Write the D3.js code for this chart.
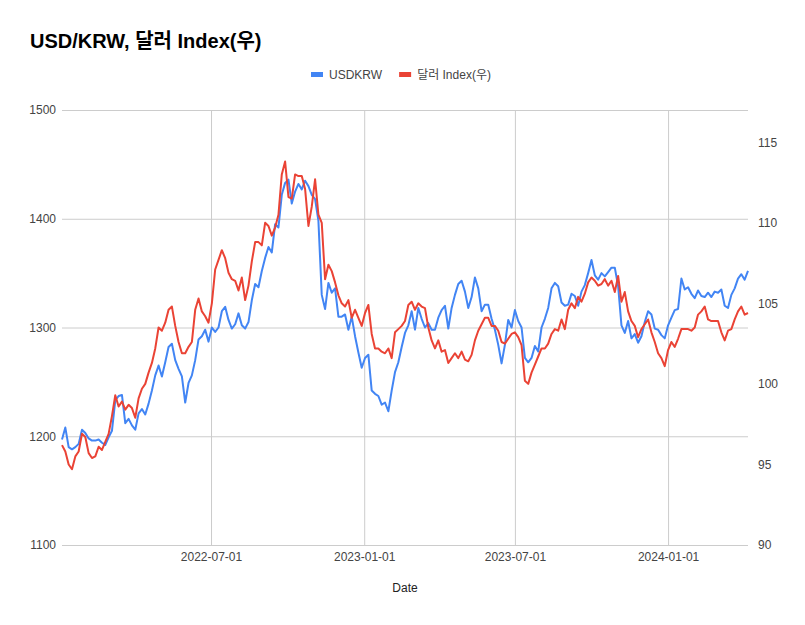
<!DOCTYPE html>
<html lang="ko">

<head>
    <meta charset="UTF-8">
    <script src="https://cdn.jsdelivr.net/npm/d3@7"></script>
    <title>USD/KRW, 달러 Index(우)</title>
    <style>
        body {
            margin: 0;
            background: #fff;
        }

        svg text {
            font-family: "Liberation Sans", Arial, "Noto Sans CJK KR", sans-serif;
        }

        .grid line {
            stroke: #ccc;
            stroke-width: 1px;
        }

        .grid path {
            display: none;
        }

        .tick text {
            fill: #444;
            font-size: 12px;
        }
    </style>
</head>

<body>
    <div id="chart"></div>

    <script>
        // Dates (every 4 days)
        const dates = [
            "2022-01-03", "2022-01-07", "2022-01-11", "2022-01-15", "2022-01-19", "2022-01-23", "2022-01-27", "2022-01-31",
            "2022-02-04", "2022-02-08", "2022-02-12", "2022-02-16", "2022-02-20", "2022-02-24", "2022-02-28",
            "2022-03-04", "2022-03-08", "2022-03-12", "2022-03-16", "2022-03-20", "2022-03-24", "2022-03-28",
            "2022-04-01", "2022-04-05", "2022-04-09", "2022-04-13", "2022-04-17", "2022-04-21", "2022-04-25", "2022-04-29",
            "2022-05-03", "2022-05-07", "2022-05-11", "2022-05-15", "2022-05-19", "2022-05-23", "2022-05-27", "2022-05-31",
            "2022-06-04", "2022-06-08", "2022-06-12", "2022-06-16", "2022-06-20", "2022-06-24", "2022-06-28",
            "2022-07-02", "2022-07-06", "2022-07-10", "2022-07-14", "2022-07-18", "2022-07-22", "2022-07-26", "2022-07-30",
            "2022-08-03", "2022-08-07", "2022-08-11", "2022-08-15", "2022-08-19", "2022-08-23", "2022-08-27", "2022-08-31",
            "2022-09-04", "2022-09-08", "2022-09-12", "2022-09-16", "2022-09-20", "2022-09-24", "2022-09-28",
            "2022-10-02", "2022-10-06", "2022-10-10", "2022-10-14", "2022-10-18", "2022-10-22", "2022-10-26", "2022-10-30",
            "2022-11-03", "2022-11-07", "2022-11-11", "2022-11-15", "2022-11-19", "2022-11-23", "2022-11-27",
            "2022-12-01", "2022-12-05", "2022-12-09", "2022-12-13", "2022-12-17", "2022-12-21", "2022-12-25", "2022-12-29",
            "2023-01-02", "2023-01-06", "2023-01-10", "2023-01-14", "2023-01-18", "2023-01-22", "2023-01-26", "2023-01-30",
            "2023-02-03", "2023-02-07", "2023-02-11", "2023-02-15", "2023-02-19", "2023-02-23", "2023-02-27",
            "2023-03-03", "2023-03-07", "2023-03-11", "2023-03-15", "2023-03-19", "2023-03-23", "2023-03-27", "2023-03-31",
            "2023-04-04", "2023-04-08", "2023-04-12", "2023-04-16", "2023-04-20", "2023-04-24", "2023-04-28",
            "2023-05-02", "2023-05-06", "2023-05-10", "2023-05-14", "2023-05-18", "2023-05-22", "2023-05-26", "2023-05-30",
            "2023-06-03", "2023-06-07", "2023-06-11", "2023-06-15", "2023-06-19", "2023-06-23", "2023-06-27",
            "2023-07-01", "2023-07-05", "2023-07-09", "2023-07-13", "2023-07-17", "2023-07-21", "2023-07-25", "2023-07-29",
            "2023-08-02", "2023-08-06", "2023-08-10", "2023-08-14", "2023-08-18", "2023-08-22", "2023-08-26", "2023-08-30",
            "2023-09-03", "2023-09-07", "2023-09-11", "2023-09-15", "2023-09-19", "2023-09-23", "2023-09-27",
            "2023-10-01", "2023-10-05", "2023-10-09", "2023-10-13", "2023-10-17", "2023-10-21", "2023-10-25", "2023-10-29",
            "2023-11-02", "2023-11-06", "2023-11-10", "2023-11-14", "2023-11-18", "2023-11-22", "2023-11-26", "2023-11-30",
            "2023-12-04", "2023-12-08", "2023-12-12", "2023-12-16", "2023-12-20", "2023-12-24", "2023-12-28",
            "2024-01-01", "2024-01-05", "2024-01-09", "2024-01-13", "2024-01-17", "2024-01-21", "2024-01-25", "2024-01-29",
            "2024-02-02", "2024-02-06", "2024-02-10", "2024-02-14", "2024-02-18", "2024-02-22", "2024-02-26",
            "2024-03-01", "2024-03-05", "2024-03-09", "2024-03-13", "2024-03-17", "2024-03-21", "2024-03-25", "2024-03-29",
            "2024-04-02", "2024-04-06"
        ];

        // USDKRW (left axis)
        const usdkrw = [
            1197, 1208, 1190, 1188, 1190, 1193, 1206, 1203, 1198, 1196,
            1196, 1197, 1194, 1192, 1199, 1205, 1233, 1237, 1238, 1212,
            1216, 1210, 1206, 1221, 1225, 1220, 1230, 1242, 1256, 1265,
            1255, 1268, 1282, 1285, 1270, 1262, 1255, 1231, 1249, 1256,
            1270, 1289, 1292, 1298, 1287, 1300, 1296, 1300, 1315, 1319,
            1307, 1299, 1303, 1313, 1302, 1299, 1305, 1325, 1340, 1337,
            1352, 1364, 1374, 1369, 1395, 1392, 1422, 1433, 1436, 1414,
            1425, 1432, 1427, 1435, 1430, 1422, 1418, 1398, 1330, 1317,
            1341, 1332, 1336, 1310, 1310, 1312, 1298, 1310, 1292, 1277,
            1263, 1272, 1275, 1242, 1239, 1237, 1229, 1231, 1223, 1242,
            1259, 1268, 1282, 1295, 1302, 1315, 1298, 1318, 1308, 1300,
            1304, 1298, 1298, 1309, 1316, 1320, 1299, 1318, 1330, 1340,
            1343, 1333, 1318, 1328, 1346, 1336, 1315, 1321, 1321, 1308,
            1298, 1284, 1267, 1284, 1307, 1300, 1316, 1306, 1300, 1272,
            1268, 1272, 1283, 1278, 1300, 1308, 1318, 1336, 1341, 1338,
            1323, 1320, 1321, 1331, 1329, 1320, 1333, 1339, 1350, 1362,
            1348, 1344, 1350, 1347, 1351, 1355, 1355, 1338, 1302, 1295,
            1306, 1290, 1294, 1286, 1292, 1305, 1315, 1312, 1299, 1298,
            1293, 1290, 1302, 1309, 1316, 1317, 1345, 1335, 1337, 1331,
            1327, 1334, 1329, 1328, 1332, 1328, 1333, 1332, 1335, 1320,
            1318, 1330, 1336, 1345, 1349, 1344, 1352
        ];

        // 달러 Index (right axis)
        const dollarIndex = [
            96.2, 95.8, 95.0, 94.7, 95.5, 95.8, 96.9, 96.7, 95.7, 95.4,
            95.5, 96.1, 95.9, 96.4, 96.9, 98.0, 99.3, 98.6, 98.9, 98.4,
            98.7, 98.5, 97.9, 99.1, 99.7, 100.0, 100.7, 101.3, 102.2, 103.5,
            103.3, 103.8, 104.6, 104.8, 103.6, 102.6, 101.9, 101.9, 102.3, 102.6,
            104.6, 105.3, 104.5, 104.2, 103.8, 105.0, 107.1, 107.7, 108.3, 107.8,
            106.9, 106.5, 106.4, 105.8, 106.6, 105.2, 106.1, 107.6, 108.8, 108.8,
            108.6, 110.0, 109.8, 109.2, 109.7, 110.5, 113.0, 113.8, 111.6, 111.5,
            113.0, 112.9, 112.9, 112.1, 109.8, 111.0, 112.7, 110.5, 110.0, 106.5,
            107.4, 107.0, 106.3, 105.5, 105.0, 104.8, 105.2, 104.1, 104.6, 104.1,
            103.6, 104.4, 104.9, 103.1, 102.2, 102.2, 102.0, 101.9, 102.2, 101.6,
            103.2, 103.4, 103.6, 103.9, 104.9, 105.1, 104.6, 105.0, 104.8, 104.7,
            103.5, 102.7, 102.2, 102.7, 102.0, 102.1, 101.3, 101.6, 101.9, 101.6,
            102.0, 101.5, 101.4, 101.8, 102.7, 103.3, 103.7, 104.1, 104.1, 103.6,
            103.6, 103.3, 102.6, 102.5, 102.8, 103.1, 103.2, 102.9, 102.4, 100.2,
            100.0, 100.7, 101.2, 101.7, 102.2, 102.2, 102.5, 103.1, 103.4, 103.3,
            104.0, 103.4, 104.6, 105.0, 104.7, 105.4, 105.1, 105.6, 106.3, 106.6,
            106.4, 106.1, 106.2, 106.5, 106.1, 106.4, 105.7, 106.7, 105.1, 105.7,
            104.5, 103.9, 103.6, 102.9, 103.4, 103.7, 104.0, 103.2, 102.6, 101.9,
            101.6, 101.1, 102.1, 102.6, 102.3, 102.8, 103.4, 103.4, 103.4, 103.3,
            103.5, 104.3, 104.5, 104.8, 104.0, 103.9, 103.9, 103.9, 103.2, 102.7,
            103.3, 103.4, 104.0, 104.5, 104.8, 104.3, 104.4
        ];

        const xTicks = ["2022-07-01", "2023-01-01", "2023-07-01", "2024-01-01"];
        const leftTicks = [1100, 1200, 1300, 1400, 1500];
        const rightTicks = [90, 95, 100, 105, 110, 115];

        const seriesNames = ["USDKRW", "달러 Index(우)"];
        const seriesColors = ["#4285f4", "#ea4335"];

        // Set dimensions
        const svgWidth = 805;
        const svgHeight = 625;
        const margin = { top: 110, right: 57, bottom: 80, left: 62 };
        const plotW = svgWidth - margin.left - margin.right;
        const plotH = svgHeight - margin.top - margin.bottom;

        const parse = d3.timeParse("%Y-%m-%d");
        const dateObjs = dates.map(parse);

        const svg = d3.select("#chart").append("svg")
            .attr("width", svgWidth)
            .attr("height", svgHeight);

        const x = d3.scaleTime()
            .domain([dateObjs[0], dateObjs[dateObjs.length - 1]])
            .range([margin.left, margin.left + plotW]);

        const yLeft = d3.scaleLinear()
            .domain([1100, 1500])
            .range([margin.top + plotH, margin.top]);

        const yRight = d3.scaleLinear()
            .domain([90, 117])
            .range([margin.top + plotH, margin.top]);

        // Horizontal grid + left labels
        svg.append("g")
            .attr("class", "grid")
            .attr("transform", `translate(${margin.left},0)`)
            .call(d3.axisLeft(yLeft).tickValues(leftTicks).tickSize(-plotW).tickPadding(6).tickFormat(d3.format("d")));

        // Vertical grid + date labels
        svg.append("g")
            .attr("class", "grid")
            .attr("transform", `translate(0,${margin.top + plotH})`)
            .call(d3.axisBottom(x).tickValues(xTicks.map(parse)).tickSize(-plotH).tickPadding(7)
                .tickFormat(d3.timeFormat("%Y-%m-%d")));

        // Right labels (no gridlines)
        svg.append("g")
            .attr("class", "grid")
            .attr("transform", `translate(${margin.left + plotW},0)`)
            .call(d3.axisRight(yRight).tickValues(rightTicks).tickSize(0).tickPadding(10));

        // Lines
        const lineLeft = d3.line()
            .x((d, i) => x(dateObjs[i]))
            .y(d => yLeft(d));

        const lineRight = d3.line()
            .x((d, i) => x(dateObjs[i]))
            .y(d => yRight(d));

        svg.append("path")
            .datum(usdkrw)
            .attr("fill", "none")
            .attr("stroke", seriesColors[0])
            .attr("stroke-width", 2)
            .attr("stroke-linejoin", "round")
            .attr("d", lineLeft);

        svg.append("path")
            .datum(dollarIndex)
            .attr("fill", "none")
            .attr("stroke", seriesColors[1])
            .attr("stroke-width", 2)
            .attr("stroke-linejoin", "round")
            .attr("d", lineRight);

        // Title
        svg.append("text")
            .attr("x", 30)
            .attr("y", 48)
            .attr("font-size", 20)
            .attr("font-weight", "bold")
            .attr("fill", "#000")
            .text("USD/KRW, 달러 Index(우)");

        // Legend
        const legend = svg.append("g").attr("transform", "translate(311,75)");
        let lx = 0;
        seriesNames.forEach((name, i) => {
            legend.append("rect")
                .attr("x", lx)
                .attr("y", -3)
                .attr("width", 12)
                .attr("height", 5)
                .attr("fill", seriesColors[i]);
            const t = legend.append("text")
                .attr("x", lx + 18)
                .attr("y", 4)
                .attr("font-size", 12)
                .attr("fill", "#444")
                .text(name);
            lx += 18 + t.node().getComputedTextLength() + 17;
        });

        // X axis title
        svg.append("text")
            .attr("x", margin.left + plotW / 2)
            .attr("y", 592)
            .attr("text-anchor", "middle")
            .attr("font-size", 12)
            .attr("fill", "#222")
            .text("Date");
    </script>
</body>

</html>
